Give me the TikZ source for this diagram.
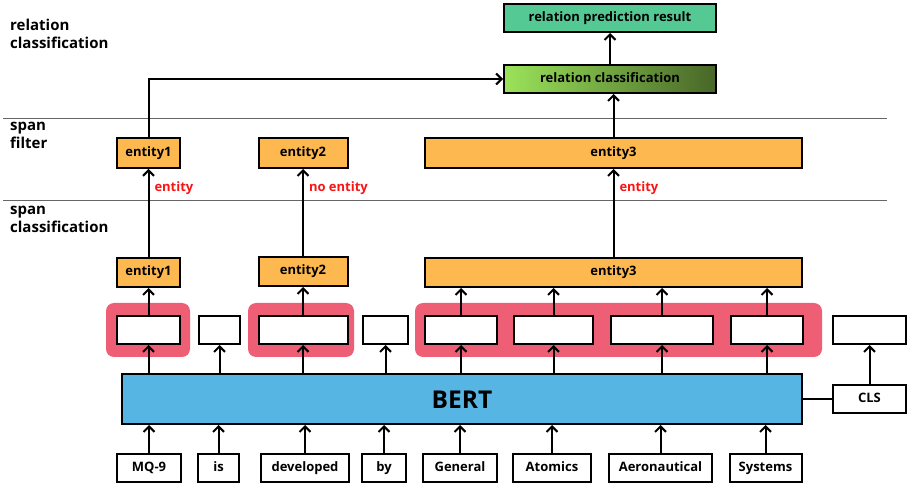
\documentclass[tikz,border=0pt]{standalone}
\usepackage{fontspec}
\setmainfont{Open Sans}
\usetikzlibrary{positioning,arrows.meta}
\definecolor{entorange}{RGB}{253,185,80}
\definecolor{spanpink}{RGB}{238,95,117}
\definecolor{bertblue}{RGB}{86,181,227}
\definecolor{resteal}{RGB}{84,201,148}
\definecolor{rclight}{RGB}{155,227,90}
\definecolor{rcmid}{RGB}{128,196,72}
\definecolor{rcdark}{RGB}{72,102,40}
\definecolor{labred}{RGB}{250,20,20}
\begin{document}
\begin{tikzpicture}[x=1pt, y=-1pt,
    box/.style={draw, line width=2pt, inner sep=0pt, minimum height=28pt, text height=9.5pt, text depth=3pt, font=\bfseries\fontsize{13}{15}\selectfont},
    tok/.style={box, fill=white},
    emb/.style={box, fill=white},
    ent/.style={box, fill=entorange, minimum height=29pt},
    layer/.style={font=\bfseries\fontsize{15}{18}\selectfont, align=left, anchor=north west, inner sep=0pt},
    redlab/.style={font=\bfseries\fontsize{13}{15}\selectfont, text=labred, inner sep=2pt, xshift=3pt},
    sepline/.style={draw=black!60, line width=0.8pt},
    arr/.style={-{Straight Barb[length=5.5pt, width=11pt]}, line width=2pt}]
\useasboundingbox (0,0) rectangle (908,486);

\node (lrel) [layer] at (10,19) {relation\\classification};
\node (lfil) [layer] at (10,122) {span\\filter};
\node (lcls) [layer] at (10,206) {span\\classification};
\draw[sepline] (3,118) -- (887,118);
\draw[sepline] (3,200) -- (887,200);

\fill[spanpink, rounded corners=8pt] (106,303) rectangle (190,357);
\fill[spanpink, rounded corners=8pt] (248,303) rectangle (354,357);
\fill[spanpink, rounded corners=8pt] (415,303) rectangle (822,357);

\node (bert) [box, fill=bertblue, minimum width=680pt, minimum height=50pt, text height=18pt, text depth=0pt, font=\bfseries\fontsize{24.5}{28}\selectfont] at (462,399) {BERT};

\node (t1) [tok, minimum width=64pt] at (149,468) {MQ-9};
\node (t2) [tok, minimum width=41pt] at (218.5,468) {is};
\node (t3) [tok, minimum width=88pt] at (305,468) {developed};
\node (t4) [tok, minimum width=44pt] at (384,468) {by};
\node (t5) [tok, minimum width=74pt] at (460,468) {General};
\node (t6) [tok, minimum width=78pt] at (552,468) {Atomics};
\node (t7) [tok, minimum width=103pt] at (660.5,468) {Aeronautical};
\node (t8) [tok, minimum width=72pt] at (765.5,468) {Systems};
\node (cls) [tok, minimum width=73pt] at (869.5,399) {CLS};

\node (h1) [emb, minimum width=63pt] at (148.5,330) {};
\node (h2) [emb, minimum width=41pt] at (219.5,330) {};
\node (h3) [emb, minimum width=89pt] at (303,330) {};
\node (h4) [emb, minimum width=45pt] at (385.5,330) {};
\node (h5) [emb, minimum width=72pt] at (461,330) {};
\node (h6) [emb, minimum width=79pt] at (553.5,330) {};
\node (h7) [emb, minimum width=102pt] at (662,330) {};
\node (h8) [emb, minimum width=72pt] at (767,330) {};
\node (hcls) [emb, minimum width=73pt] at (869.5,330) {};

\node (c1) [ent, minimum width=63pt] at (148.5,272.5) {entity1};
\node (c2) [ent, minimum width=89pt] at (303,271.5) {entity2};
\node (c3) [ent, minimum width=377pt] at (613.5,272.5) {entity3};

\node (f1) [ent, minimum width=63pt, minimum height=30pt] at (148.5,153) {entity1};
\node (f2) [ent, minimum width=89pt, minimum height=30pt] at (303,153) {entity2};
\node (f3) [ent, minimum width=377pt, minimum height=30pt] at (613.5,153) {entity3};

\node (rc) [box, left color=rclight, middle color=rcmid, right color=rcdark, minimum width=212pt] at (610,79) {relation classification};
\node (rpr) [box, fill=resteal, minimum width=212pt] at (610,18) {relation prediction result};

\foreach \t in {t1,t2,t3,t4,t5,t6,t7,t8}
    \draw[arr] (\t) -- (\t |- bert.south);
\foreach \h in {h1,h2,h3,h4,h5,h6,h7,h8}
    \draw[arr] (bert.north -| \h) -- (\h);
\draw[arr] (h1) -- (c1);
\draw[arr] (h3) -- (c2);
\foreach \h in {h5,h6,h7,h8}
    \draw[arr] (\h) -- (\h |- c3.south);
\draw[line width=2pt] (bert.east |- cls) -- (cls);
\draw[arr] (cls) -- (hcls);

\draw[arr] (c1) -- node[pos=0.78, right, redlab] {entity} (f1);
\draw[arr] (c2) -- node[pos=0.78, right, redlab] {no entity} (f2);
\draw[arr] (c3) -- node[pos=0.78, right, redlab] {entity} (f3);

\draw[arr] (f1.north) |- (rc.west);
\draw[arr] (f3.north) -- (f3.north |- rc.south);
\draw[arr] (rc) -- (rpr);
\end{tikzpicture}
\end{document}
